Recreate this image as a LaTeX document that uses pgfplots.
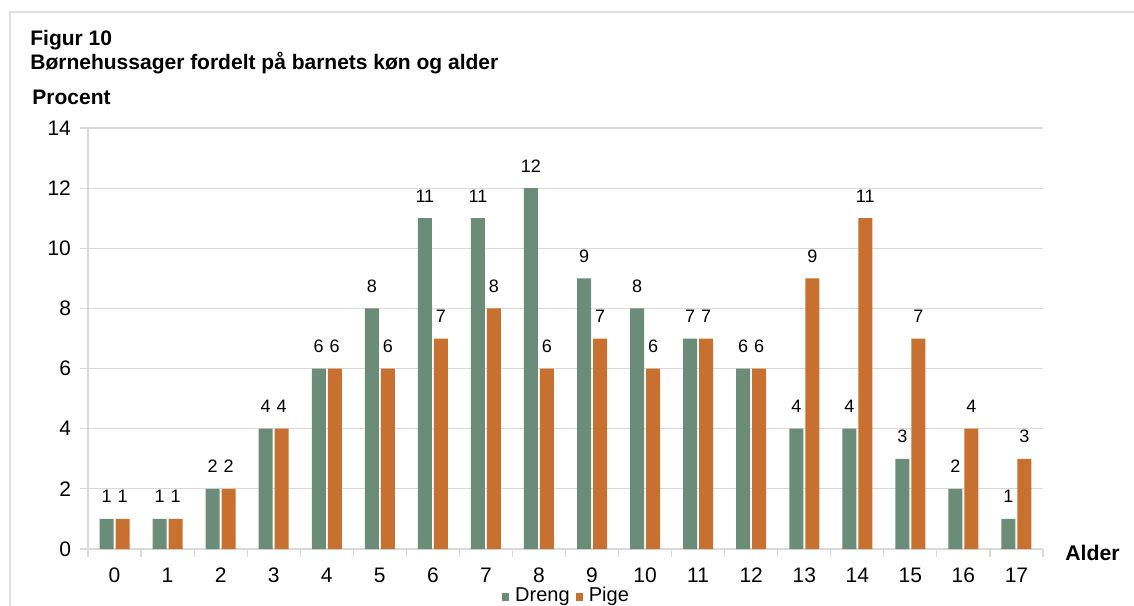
\documentclass[border=0pt]{standalone}
\usepackage{pgfplots}
\pgfplotsset{compat=1.18}
\usepackage{fontspec}
\setmainfont{Liberation Sans}
\definecolor{dreng}{RGB}{107,140,120}
\definecolor{pige}{RGB}{200,112,48}
\definecolor{gridc}{RGB}{217,217,217}
\begin{document}
\begin{tikzpicture}
\useasboundingbox (0,0) rectangle (567pt,-302.5pt);
\draw[gray!25, line width=0.8pt] (5pt,-6pt) rectangle (640pt,-340pt);
\node[anchor=base west, font=\fontsize{10.5}{12}\selectfont\bfseries, inner sep=0] at (15pt,-22.5pt) {Figur 10};
\node[anchor=base west, font=\fontsize{10.5}{12}\selectfont\bfseries, inner sep=0] at (15pt,-34.5pt) {Børnehussager fordelt på barnets køn og alder};
\node[anchor=base west, font=\fontsize{10.5}{12}\selectfont\bfseries, inner sep=0] at (16pt,-52pt) {Procent};
\node[anchor=base west, font=\fontsize{10.6}{12}\selectfont\bfseries, inner sep=0] at (532.5pt,-280pt) {Alder};
\begin{axis}[
  at={(44pt,-274.5pt)}, anchor=south west,
  scale only axis, width=477.5pt, height=210.5pt,
  ybar=1pt, bar width=7pt,
  xmin=-0.5, xmax=17.5, ymin=0, ymax=14,
  xtick={0,...,17},
  minor xtick={-0.5,0.5,...,17.5},
  ytick={0,2,...,14},
  tick align=outside,
  major x tick style={draw=none},
  minor tick length=4pt, major tick length=4pt,
  every tick/.style={gridc, line width=0.6pt},
  axis lines*=left,
  axis line style={gridc, line width=0.6pt},
  ymajorgrids, grid style={gridc, line width=0.6pt},
  /pgf/number format/assume math mode=true,
  tick label style={font=\fontsize{10.5}{12}\selectfont, black},
  xticklabel style={yshift=-2pt},
  yticklabel style={xshift=-1pt},
  nodes near coords,
  every node near coord/.append style={font=\fontsize{9}{10}\selectfont, black, yshift=4.5pt},
  legend style={at={(0.5015,-0.112)}, anchor=center, draw=none, fill=none, legend columns=-1,
    font=\fontsize{10}{12}\selectfont, inner sep=0pt, nodes={inner sep=1.5pt},
    /tikz/every odd column/.append style={column sep=1.5pt},
    /tikz/every even column/.append style={column sep=1.5pt}},
  legend image code/.code={\fill[#1] (0pt,-2.2pt) rectangle (3.6pt,1.4pt);},
]
\addplot[fill=dreng, draw=none] coordinates {(0,1) (1,1) (2,2) (3,4) (4,6) (5,8) (6,11) (7,11) (8,12) (9,9) (10,8) (11,7) (12,6) (13,4) (14,4) (15,3) (16,2) (17,1)};
\addplot[fill=pige, draw=none] coordinates {(0,1) (1,1) (2,2) (3,4) (4,6) (5,6) (6,7) (7,8) (8,6) (9,7) (10,6) (11,7) (12,6) (13,9) (14,11) (15,7) (16,4) (17,3)};
\legend{Dreng, Pige}
\end{axis}
\end{tikzpicture}
\end{document}
